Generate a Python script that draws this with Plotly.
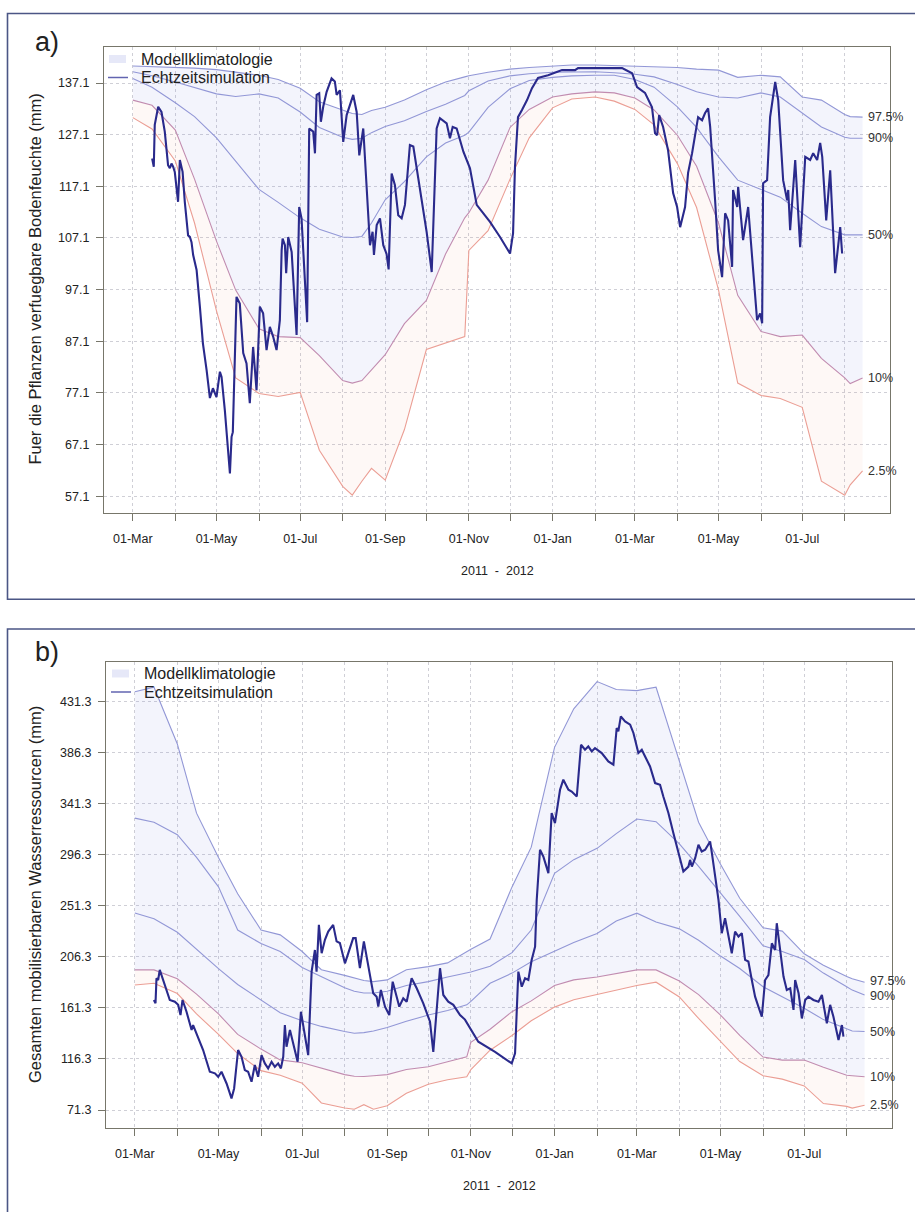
import pandas as pd
import plotly.graph_objects as go

START = pd.Timestamp("2011-03-01")

# ---------------- climatology grid (shared by both panels) ----------------
clim_dates = ["2011-03-01", "2011-03-15", "2011-04-01", "2011-04-15", "2011-05-01",
              "2011-05-15", "2011-06-01", "2011-06-15", "2011-07-01", "2011-07-15",
              "2011-08-01", "2011-08-08", "2011-08-15", "2011-08-22", "2011-09-01",
              "2011-09-15", "2011-10-01", "2011-10-15", "2011-10-29", "2011-11-01",
              "2011-11-15", "2011-12-01", "2011-12-15", "2012-01-01", "2012-01-15",
              "2012-02-01", "2012-02-15", "2012-03-01", "2012-03-15", "2012-04-01",
              "2012-04-15", "2012-05-01", "2012-05-15", "2012-06-01", "2012-06-15",
              "2012-07-01", "2012-07-15", "2012-08-01", "2012-08-05", "2012-08-14"]

# ---------------- panel a: plant available soil moisture (mm) ----------------
a_p975 = [140.4, 140.3, 140.2, 140.0, 139.7, 139.2, 138.6, 137.8, 136.1, 133.5,
          131.9, 131.2, 131.0, 131.8, 132.4, 133.8, 135.8, 137.3, 138.3, 138.5,
          139.2, 139.8, 140.1, 140.4, 140.6, 140.6, 140.5, 140.4, 140.3, 140.1,
          139.8, 139.6, 138.2, 138.6, 138.3, 134.4, 133.8, 131.0, 130.6, 130.5]
a_p90 = [139.3, 138.5, 137.3, 136.2, 135.0, 134.5, 135.0, 134.2, 131.5, 128.5,
         126.6, 126.2, 126.4, 127.5, 128.7, 129.8, 131.6, 133.0, 134.7, 135.6,
         137.5, 138.5, 138.9, 139.2, 139.3, 139.3, 139.1, 138.8, 138.3, 136.8,
         135.4, 134.4, 134.2, 135.2, 134.4, 131.3, 128.6, 126.6, 126.4, 126.4]
a_p50 = [138.0, 136.3, 133.3, 130.6, 126.5, 122.0, 116.5, 114.0, 111.0, 108.8,
         107.3, 107.2, 107.4, 110.0, 114.5, 118.0, 122.8, 125.5, 127.0, 127.6,
         132.4, 136.0, 137.6, 138.2, 138.5, 138.6, 138.6, 137.8, 136.3, 132.5,
         128.5, 122.8, 118.3, 116.5, 115.0, 111.9, 109.3, 107.7, 107.7, 107.7]
a_p10 = [133.8, 132.8, 128.0, 118.5, 106.5, 97.0, 89.5, 88.0, 87.8, 84.3,
         79.5, 79.0, 79.5, 81.5, 84.5, 90.5, 95.0, 104.0, 111.0, 112.0,
         118.3, 128.5, 132.0, 134.4, 135.0, 135.4, 135.2, 134.2, 131.9, 127.0,
         121.0, 110.0, 96.0, 89.0, 88.0, 88.3, 83.8, 80.0, 78.9, 80.0]
a_p025 = [130.4, 128.2, 122.0, 110.0, 93.0, 80.0, 77.0, 76.4, 77.2, 66.0,
          59.0, 57.3, 60.0, 62.5, 60.2, 70.0, 85.5, 86.8, 88.0, 104.7,
          108.5, 118.5, 126.5, 132.3, 134.0, 134.4, 133.6, 132.0, 129.0, 121.5,
          113.0, 97.0, 79.0, 76.6, 76.0, 74.3, 60.0, 57.3, 59.3, 62.0]
a_yticks = [57.1, 67.1, 77.1, 87.1, 97.1, 107.1, 117.1, 127.1, 137.1]

# real-time simulation: (days since 2011-03-01, mm)
obs_a_points = [
    (14.1, 122.5), (15.3, 120.9), (16.0, 129.0), (18.5, 132.5), (20.9, 131.5),
    (23.3, 127.7), (25.7, 121.2), (27.0, 120.6), (28.2, 121.5), (29.4, 120.9),
    (30.6, 119.9), (31.9, 117.3), (33.0, 114.1), (34.3, 122.2), (36.3, 119.9),
    (37.9, 114.1), (40.3, 107.6), (41.6, 107.3), (42.8, 106.3), (44.0, 103.8),
    (46.5, 100.9), (48.9, 93.8), (51.1, 86.7), (53.8, 81.5), (56.2, 76.1),
    (58.4, 78.0), (61.0, 76.3), (63.5, 81.2), (64.7, 80.2), (67.1, 73.7),
    (70.8, 61.5), (72.0, 68.6), (72.9, 69.5), (75.6, 95.7), (78.0, 94.4),
    (80.5, 84.8), (82.9, 82.8), (85.3, 75.1), (87.7, 86.0), (90.2, 77.6),
    (92.6, 93.8), (95.0, 92.5), (97.5, 85.4), (99.9, 89.9), (102.3, 88.0),
    (104.8, 85.4), (107.2, 91.2), (108.5, 104.7), (109.2, 107.0), (110.9, 105.7),
    (111.8, 100.3), (113.3, 107.3), (115.8, 104.4), (119.4, 88.3), (121.3, 113.1),
    (123.0, 110.9), (127.1, 90.8), (128.6, 128.3), (131.5, 127.7), (132.8, 123.5),
    (134.0, 134.8), (135.9, 135.1), (137.1, 129.6), (138.8, 132.5), (141.3, 135.4),
    (144.9, 138.0), (147.3, 137.4), (148.6, 134.8), (151.0, 135.7), (153.4, 125.7),
    (155.9, 130.9), (160.7, 134.8), (163.2, 131.5), (165.1, 123.1), (168.0, 128.3),
    (172.9, 105.7), (174.8, 108.3), (175.8, 103.8), (177.8, 109.6), (180.2, 110.9),
    (182.6, 105.7), (185.0, 104.0), (186.5, 101.0), (188.7, 119.6), (191.1, 117.3),
    (193.5, 111.5), (196.0, 110.9), (198.4, 113.5), (202.0, 125.1), (204.5, 124.8),
    (206.9, 120.6), (210.6, 114.1), (214.2, 108.3), (217.9, 100.5), (221.5, 128.3),
    (223.9, 130.3), (228.8, 129.3), (231.2, 126.4), (233.2, 128.6), (236.1, 128.3),
    (241.0, 123.8), (245.8, 120.6), (250.7, 113.5), (260.4, 110.2), (267.7, 107.3),
    (275.0, 104.1), (277.2, 108.0), (278.6, 120.8), (280.8, 130.5), (283.7, 131.9),
    (287.4, 133.8), (291.0, 136.1), (295.4, 138.1), (302.7, 138.6), (312.9, 139.6),
    (322.4, 139.6), (324.6, 140.0), (337.0, 140.0), (356.7, 140.0), (364.0, 139.0),
    (367.6, 136.3), (373.4, 135.2), (378.5, 132.4), (380.7, 127.4), (382.2, 127.0),
    (383.7, 130.9), (386.6, 128.6), (390.2, 124.1), (393.9, 115.8), (396.8, 113.1),
    (399.0, 109.2), (402.6, 113.1), (404.8, 119.7), (407.7, 123.5), (409.9, 127.4),
    (412.1, 130.5), (415.0, 129.9), (417.2, 131.3), (419.4, 132.2), (420.9, 128.6),
    (424.5, 114.4), (426.7, 104.7), (429.6, 99.5), (431.8, 111.9), (434.0, 110.5),
    (436.9, 101.5), (437.6, 116.4), (440.6, 113.1), (441.3, 117.0), (444.9, 106.7),
    (448.6, 113.1), (452.2, 101.5), (455.1, 91.2), (457.3, 92.5), (458.8, 90.6),
    (459.5, 117.7), (462.4, 118.3), (464.6, 130.5), (468.3, 137.3), (470.5, 133.8),
    (474.1, 118.3), (477.0, 114.4), (477.8, 116.4), (479.2, 108.6), (482.9, 122.2),
    (486.5, 105.3), (490.2, 122.8), (493.8, 122.2), (496.0, 123.5), (498.9, 122.2),
    (501.1, 125.5), (502.6, 122.8), (505.5, 110.5), (508.4, 120.2), (512.0, 100.3),
    (515.7, 109.2), (517.1, 104.1)]

# ---------------- panel b: total mobilisable water resources (mm) ----------------
b_p975 = [440, 444, 394, 333, 294, 262, 230, 225.7, 211, 195,
          190, 188, 185.5, 184.5, 186, 195, 197.7, 201, 211, 213,
          222, 268, 303, 391, 425, 449, 442, 441, 444, 378,
          325, 288, 258, 232, 229, 209, 199, 189, 187, 184]
b_p90 = [328.6, 325, 314, 294, 268, 230, 218, 211, 197, 189,
         179, 176, 174.5, 174.5, 176, 181, 184.5, 188.5, 192, 193,
         198, 210, 230, 280, 292, 302, 315, 327.8, 325.5, 306,
         286, 263, 242, 216, 211, 204, 192, 180, 177, 172.7]
b_p50 = [245, 240, 228, 213, 196, 182, 168, 157, 150, 145,
         140.5, 139, 139.5, 141, 144, 149.5, 155, 159, 164, 167,
         183, 192, 202, 211, 219, 227, 238, 244.8, 237, 231,
         221, 207, 196, 180, 171, 161, 151, 142.5, 141, 140.5]
b_p10 = [194.8, 194.8, 187, 173.5, 156, 138, 125, 115.5, 113, 108,
         102.5, 101, 100.8, 101.5, 102.5, 107, 109.5, 113.8, 118.2, 131,
         142.5, 158, 167.5, 181, 186, 188.5, 191.5, 194.8, 194.8, 185,
         173, 155, 137, 118, 115.3, 115.3, 109, 102, 101.5, 100.6]
b_p025 = [181.5, 183, 174, 156, 138, 121, 106, 102, 95, 77.5,
          73, 72, 76, 72, 75, 86, 94, 98, 100.6, 107,
          124, 137, 150, 162, 168.5, 173, 177, 181, 184, 171,
          152, 132, 114, 101.5, 98.5, 92.5, 77, 74.5, 73, 75.5]
b_yticks = [71.3, 116.3, 161.3, 206.3, 251.3, 296.3, 341.3, 386.3, 431.3]

obs_b_points = [
    (13.9, 168.3), (15.1, 165.4), (15.8, 187.4), (17.0, 185.9), (18.2, 194.8),
    (20.6, 185.9), (23.1, 177.1), (25.5, 168.3), (29.2, 166.8), (31.6, 164.0),
    (33.3, 155.0), (34.8, 168.3), (37.7, 157.9), (41.4, 141.8), (42.5, 146.2),
    (45.0, 138.9), (49.8, 124.2), (54.7, 105.0), (58.4, 103.6), (60.8, 100.6),
    (63.2, 105.0), (66.9, 94.7), (70.5, 81.5), (72.4, 90.3), (75.3, 124.2),
    (77.8, 118.2), (80.2, 106.5), (82.6, 105.0), (85.1, 96.2), (87.5, 111.0),
    (89.9, 100.6), (92.4, 119.7), (94.8, 112.4), (97.2, 108.0), (99.7, 113.8),
    (102.1, 109.4), (104.5, 112.4), (106.5, 108.0), (108.2, 118.2), (109.4, 146.2),
    (110.6, 127.1), (113.1, 141.8), (115.5, 130.1), (118.7, 113.8), (121.1, 157.9),
    (124.0, 138.9), (126.4, 119.7), (128.9, 193.3), (131.3, 212.4), (132.5, 193.3),
    (134.2, 234.5), (136.2, 209.5), (138.6, 221.3), (141.0, 228.6), (144.6, 234.5),
    (147.1, 220.0), (149.5, 218.5), (153.2, 200.6), (155.6, 209.5), (159.2, 222.8),
    (161.0, 222.8), (164.1, 196.3), (167.0, 220.0), (170.2, 197.7), (173.8, 174.2),
    (176.3, 171.2), (177.5, 162.4), (179.4, 177.1), (182.4, 162.4), (185.5, 155.0),
    (188.0, 184.4), (190.9, 171.2), (192.8, 162.4), (195.7, 169.8), (198.2, 166.8),
    (201.8, 187.4), (205.5, 178.6), (210.3, 165.4), (215.2, 149.1), (217.6, 122.6),
    (220.5, 168.3), (222.5, 196.3), (224.9, 172.7), (228.5, 166.8), (232.2, 164.0),
    (237.1, 155.0), (240.7, 151.0), (250.4, 131.5), (262.6, 122.6), (274.8, 112.4),
    (277.2, 121.2), (279.6, 193.3), (282.1, 180.0), (284.5, 187.4), (286.9, 185.9),
    (289.3, 203.5), (291.8, 215.3), (293.0, 256.5), (295.4, 300.7), (297.8, 294.8),
    (301.5, 280.1), (303.9, 333.1), (306.3, 324.2), (310.0, 353.6), (312.4, 362.5),
    (316.1, 353.6), (318.5, 352.1), (322.2, 347.7), (325.3, 393.3), (328.2, 388.9),
    (330.6, 391.8), (333.1, 387.4), (335.5, 390.4), (340.4, 386.0), (345.2, 378.6),
    (348.9, 375.7), (351.3, 408.1), (352.5, 405.1), (354.3, 418.3), (357.4, 413.9),
    (361.1, 411.0), (363.5, 403.7), (367.1, 386.0), (369.6, 388.9), (372.0, 383.0),
    (375.6, 374.2), (379.3, 359.5), (382.9, 358.0), (385.3, 347.7), (389.0, 333.1),
    (392.6, 315.4), (396.3, 297.8), (399.9, 281.5), (403.6, 285.9), (404.8, 291.8),
    (406.1, 285.9), (408.5, 293.3), (410.9, 305.1), (413.3, 299.2), (415.8, 300.7),
    (418.2, 305.1), (419.4, 308.0), (420.7, 297.8), (423.1, 277.1), (425.5, 256.5),
    (427.9, 227.2), (430.3, 240.4), (435.2, 209.5), (437.6, 228.6), (440.1, 224.2),
    (442.5, 227.2), (444.9, 203.7), (447.3, 202.2), (449.8, 185.9), (452.2, 171.2),
    (454.6, 162.4), (457.1, 153.5), (459.5, 185.9), (461.9, 190.3), (464.4, 218.3),
    (466.8, 212.4), (468.0, 236.0), (470.5, 212.4), (472.9, 188.9), (475.3, 177.1),
    (477.8, 178.6), (480.2, 159.5), (481.4, 185.9), (483.9, 174.2), (486.3, 152.0),
    (488.7, 168.3), (491.1, 171.2), (494.7, 168.3), (498.4, 166.8), (500.9, 172.7),
    (504.5, 147.7), (506.9, 164.0), (509.3, 153.5), (513.0, 133.0), (515.5, 146.2),
    (516.6, 135.9)]

pct_labels = ["97.5%", "90%", "50%", "10%", "2.5%"]

# ---------------- styling ----------------
FONT = "Liberation Sans, Arial, Helvetica, sans-serif"
W, H = 915, 1212
C_BLUE = "#9297d6"
C_P10 = "#c18cb0"
C_P025 = "#eb9e94"
C_OBS = "#2a2a8c"
FILL_BLUE = "rgba(140,150,225,0.10)"
FILL_PEACH = "rgba(240,170,140,0.08)"
FRAME = "#4b5685"
AXIS = "#77766a"
GRID = "#cfcfd6"

X_RANGE = ["2011-02-08", "2012-09-03"]
month_ticks = pd.date_range("2011-03-01", "2012-08-01", freq="MS")
month_text = [d.strftime("%d-%b") if i % 2 == 0 else "" for i, d in enumerate(month_ticks)]

fig = go.Figure()
cdates = pd.to_datetime(clim_dates)


def px_x(p):
    return p / W


def px_y(p):
    return 1 - p / H


def add_panel(xa, ya, p025, p10, p50, p90, p975, obs_points, label_shift):
    common = dict(xaxis=xa, yaxis=ya, mode="lines", showlegend=False, hoverinfo="skip")
    fig.add_trace(go.Scatter(x=cdates, y=p025, line=dict(color=C_P025, width=1.1), **common))
    fig.add_trace(go.Scatter(x=cdates, y=p10, line=dict(color=C_P10, width=1.1),
                             fill="tonexty", fillcolor=FILL_PEACH, **common))
    fig.add_trace(go.Scatter(x=cdates, y=p975, line=dict(color=C_BLUE, width=1.1),
                             fill="tonexty", fillcolor=FILL_BLUE, **common))
    fig.add_trace(go.Scatter(x=cdates, y=p90, line=dict(color=C_BLUE, width=1.1), **common))
    fig.add_trace(go.Scatter(x=cdates, y=p50, line=dict(color=C_BLUE, width=1.1), **common))
    days = [p[0] for p in obs_points]
    vals = [p[1] for p in obs_points]
    odates = START + pd.to_timedelta(days, unit="D")
    fig.add_trace(go.Scatter(x=odates, y=vals, line=dict(color=C_OBS, width=2.1), **common))
    # percentile labels at the line ends
    for lab, series, ys in zip(pct_labels, [p975, p90, p50, p10, p025], label_shift):
        fig.add_annotation(x=cdates[-1], y=series[-1], xref=xa, yref=ya, text=lab,
                           showarrow=False, xanchor="left", yanchor="middle", xshift=3,
                           yshift=ys, font=dict(size=12.5, color="#333333", family=FONT))


add_panel("x", "y", a_p025, a_p10, a_p50, a_p90, a_p975, obs_a_points, [0, 0, 0, 0, 0])
add_panel("x2", "y2", b_p025, b_p10, b_p50, b_p90, b_p975, obs_b_points, [1.5, -1.5, 0, 0, 0])

xcommon = dict(type="date", range=X_RANGE, tickvals=month_ticks, ticktext=month_text,
               ticks="outside", ticklen=7, tickcolor=AXIS, tickwidth=1,
               showline=True, mirror=True, linecolor=AXIS, linewidth=1.2,
               showgrid=True, gridcolor=GRID, griddash="dot", gridwidth=1,
               zeroline=False, ticklabelstandoff=7,
               tickfont=dict(size=12.5, color="#222222", family=FONT))
ycommon = dict(ticks="outside", ticklen=7, tickcolor=AXIS, tickwidth=1,
               showline=True, mirror=True, linecolor=AXIS, linewidth=1.2,
               showgrid=True, gridcolor=GRID, griddash="dot", gridwidth=1,
               zeroline=False, ticklabelstandoff=4,
               tickfont=dict(size=12.5, color="#222222", family=FONT))

fig.update_layout(
    width=W, height=H, margin=dict(l=0, r=0, t=0, b=0),
    paper_bgcolor="white", plot_bgcolor="white", showlegend=False,
    font=dict(family=FONT, color="#222222"), hovermode=False,
    xaxis=dict(domain=[px_x(104), px_x(890)], anchor="y", **xcommon),
    yaxis=dict(domain=[px_y(512.5), px_y(46.7)], anchor="x", range=[53.94, 144.14],
               tickvals=a_yticks, ticktext=[f"{v:.1f}" for v in a_yticks], **ycommon),
    xaxis2=dict(domain=[px_x(106), px_x(892)], anchor="y2", **xcommon),
    yaxis2=dict(domain=[px_y(1127.7), px_y(662.3)], anchor="x2", range=[55.7, 466.0],
                tickvals=b_yticks, ticktext=[f"{v:.1f}" for v in b_yticks], **ycommon),
)

shapes = []
# outer panel frames
shapes.append(dict(type="rect", xref="paper", yref="paper", x0=px_x(7.5), x1=1.05,
                   y0=px_y(599.3), y1=px_y(13.5), line=dict(color=FRAME, width=1.6)))
shapes.append(dict(type="rect", xref="paper", yref="paper", x0=px_x(7.5), x1=1.05,
                   y0=-0.05, y1=px_y(629), line=dict(color=FRAME, width=1.6)))

annotations = list(fig.layout.annotations)


def add_text(x, y, text, size, **kw):
    annotations.append(dict(xref="paper", yref="paper", x=px_x(x), y=px_y(y), text=text,
                            showarrow=False, font=dict(size=size, color="#222222", family=FONT),
                            **kw))


panels = [
    dict(label="a)", ly=42, ytitle="Fuer die Pflanzen verfuegbare Bodenfeuchte (mm)",
         ytop=46.7, ybot=512.5, xl=104, xr=890, xt=571, leg_y=59, leg_x=108),
    dict(label="b)", ly=652, ytitle="Gesamten mobilisierbaren Wasserressourcen (mm)",
         ytop=662.3, ybot=1127.7, xl=106, xr=892, xt=1185.5, leg_y=673.5, leg_x=111),
]
for p in panels:
    add_text(47, p["ly"], p["label"], 27, xanchor="center", yanchor="middle")
    add_text(35, (p["ytop"] + p["ybot"]) / 2, p["ytitle"], 16.5, textangle=-90,
             xanchor="center", yanchor="middle")
    add_text((p["xl"] + p["xr"]) / 2, p["xt"], "2011\u00a0\u00a0-\u00a0\u00a02012", 12.5,
             xanchor="center", yanchor="middle")
    # legend
    lx, ly = p["leg_x"], p["leg_y"]
    shapes.append(dict(type="rect", xref="paper", yref="paper", x0=px_x(lx + 1), x1=px_x(lx + 18),
                       y0=px_y(ly + 4), y1=px_y(ly - 4), fillcolor="rgba(200,205,240,0.45)",
                       line=dict(width=0)))
    shapes.append(dict(type="line", xref="paper", yref="paper", x0=px_x(lx), x1=px_x(lx + 20),
                       y0=px_y(ly + 18.5), y1=px_y(ly + 18.5), line=dict(color="#6264b0", width=1.5)))
    add_text(lx + 31, ly, "Modellklimatologie", 16, xanchor="left", yanchor="middle")
    add_text(lx + 31, ly + 18.5, "Echtzeitsimulation", 16, xanchor="left", yanchor="middle")

fig.update_layout(shapes=shapes, annotations=annotations)

fig.write_html("out.html", include_plotlyjs=True, full_html=True,
               config={"displayModeBar": False},
               post_script="document.body.style.margin='0';")
